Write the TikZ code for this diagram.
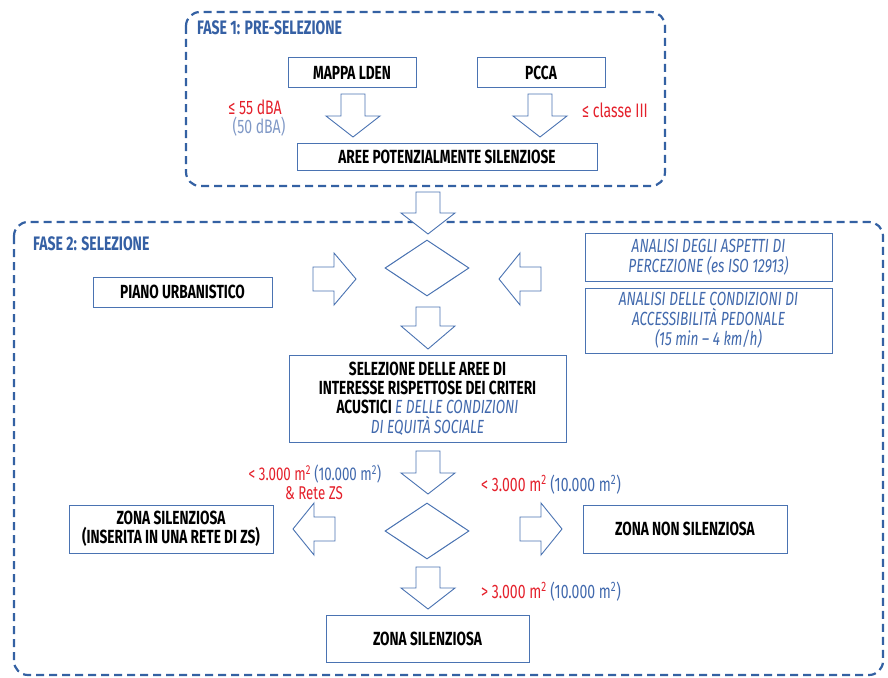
\documentclass[tikz,border=0pt]{standalone}
\usepackage{fontspec}
\setmainfont{Fira Sans}[FakeStretch=0.72]
\usetikzlibrary{shapes.geometric}
\definecolor{dashblue}{HTML}{3461A3}
\definecolor{boxblue}{HTML}{4A73B2}
\definecolor{titleblue}{HTML}{3560A4}
\definecolor{itblue}{HTML}{4169AD}
\definecolor{txtred}{HTML}{E4202B}
\definecolor{greyblue}{HTML}{7F98C6}
\newcommand\dnarrow[4]{% cx, ytop, yhead, ytip
  \draw[blockarrow] ({#1-12},#2) -- ({#1+12},#2) -- ({#1+12},#3) -- ({#1+27},#3) -- (#1,#4) -- ({#1-27},#3) -- ({#1-12},#3) -- cycle;}
\newcommand\hzarrow[4]{% cy, xtail, xhead, xtip
  \draw[blockarrow] (#2,{#1-12}) -- (#3,{#1-12}) -- (#3,{#1-26}) -- (#4,#1) -- (#3,{#1+26}) -- (#3,{#1+12}) -- (#2,{#1+12}) -- cycle;}
\newcommand\sqm{m\textsuperscript{2}}
\begin{document}
\begin{tikzpicture}[x=1pt,y=-1pt,
  phase/.style={draw=dashblue, line width=2.2pt, dash pattern=on 8pt off 5pt, rounded corners=14pt},
  phasetitle/.style={anchor=west, text=titleblue, font=\bfseries\fontsize{19.5}{22}\selectfont, inner sep=0},
  box/.style={draw=boxblue, line width=1pt, fill=white, inner sep=0, align=center, font=\bfseries\fontsize{19}{19.2}\selectfont},
  itbox/.style={box, text=itblue, font=\itshape\fontsize{19}{19.8}\selectfont},
  dia/.style={diamond, draw=boxblue, line width=1pt, inner sep=0, minimum width=84pt, minimum height=56pt},
  blockarrow/.style={draw=boxblue, line width=0.9pt, fill=white, line join=miter},
  lbl/.style={inner sep=0, font=\fontsize{19.5}{22}\selectfont},
  lblsm/.style={inner sep=0, font=\fontsize{18.5}{20}\selectfont}
]
\useasboundingbox (0,0) rectangle (888,677);
% phases
\draw[phase] (186,12) rectangle (665,186);
\node[phasetitle] (t1) at (197,28) {FASE 1: PRE-SELEZIONE};
\draw[phase] (14,222) rectangle (883,675);
\node[phasetitle] (t2) at (33,244) {FASE 2: SELEZIONE};
% phase 1
\node[box, minimum width=128pt, minimum height=29pt] (mappa) at (352,72.5) {MAPPA LDEN};
\node[box, minimum width=128pt, minimum height=29pt] (pcca) at (541,72.5) {PCCA};
\node[box, minimum width=300pt, minimum height=27pt] (aree) at (447,156.5) {AREE POTENZIALMENTE SILENZIOSE};
\dnarrow{353}{94}{116}{137}
\dnarrow{540}{94}{116}{137}
\node[lbl, text=txtred] (l55) at (255,107) {≤ 55 dBA};
\node[lbl, text=greyblue] (l50) at (259,127) {(50 dBA)};
\node[lbl, text=txtred] (lcl) at (615,110) {≤ classe III};
% phase 2
\dnarrow{428}{192}{213}{234}
\node[dia] (d1) at (427,268) {};
\hzarrow{279}{313}{334}{356}
\hzarrow{279}{541}{520}{499}
\node[box, minimum width=179pt, minimum height=30pt] (piano) at (182.5,292) {PIANO URBANISTICO};
\node[itbox, minimum width=247pt, minimum height=48pt] (an1) at (708.5,257) {ANALISI DEGLI ASPETTI DI\\PERCEZIONE (es ISO 12913)};
\node[itbox, minimum width=247pt, minimum height=65pt] (an2) at (708.5,320.5) {ANALISI DELLE CONDIZIONI DI\\ACCESSIBILITÀ PEDONALE\\(15 min – 4 km/h)};
\dnarrow{428}{307}{326}{349}
\node[box, minimum width=277pt, minimum height=87pt] (sel) at (427.5,398.5) {SELEZIONE DELLE AREE DI\\INTERESSE RISPETTOSE DEI CRITERI\\ACUSTICI {\color{itblue}\mdseries\itshape E DELLE CONDIZIONI}\\{\color{itblue}\mdseries\itshape DI EQUITÀ SOCIALE}};
\dnarrow{428}{451}{473}{494}
\node[dia] (d2) at (427,531) {};
\hzarrow{529}{335}{314}{293}
\hzarrow{529}{520}{541}{562}
\node[box, minimum width=204pt, minimum height=48pt] (zsr) at (171,529) {ZONA SILENZIOSA\\(INSERITA IN UNA RETE DI ZS)};
\node[box, minimum width=204pt, minimum height=48pt] (zns) at (685,529) {ZONA NON SILENZIOSA};
\dnarrow{428}{567}{588}{609}
\node[box, minimum width=203pt, minimum height=47pt] (zs) at (427.5,638.5) {ZONA SILENZIOSA};
\node[lblsm] (la) at (315,474) {{\color{txtred}< 3.000 \sqm} {\color{itblue}(10.000 \sqm)}};
\node[lblsm, text=txtred] (lb) at (314,493.5) {\& Rete ZS};
\node[lbl] (lc) at (551,485) {{\color{txtred}< 3.000 \sqm} {\color{itblue}(10.000 \sqm)}};
\node[lbl] (ld) at (551,592) {{\color{txtred}> 3.000 \sqm} {\color{itblue}(10.000 \sqm)}};
\end{tikzpicture}
\end{document}
